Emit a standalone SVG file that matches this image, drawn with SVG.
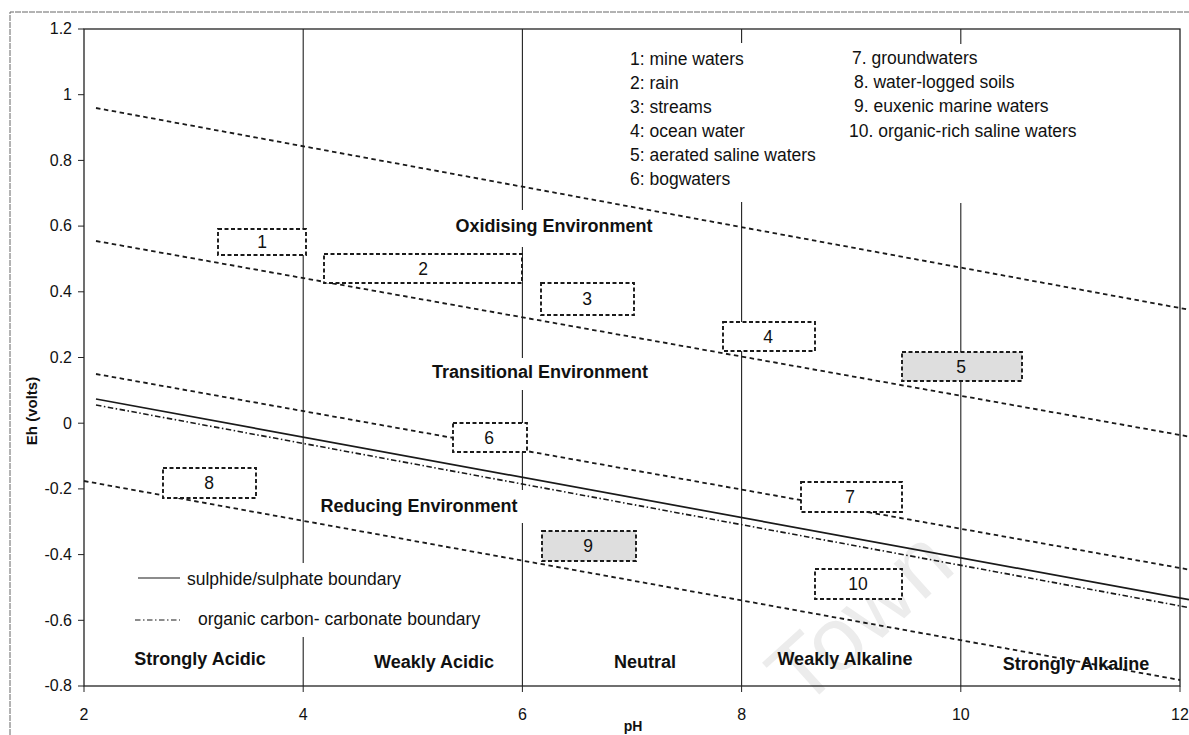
<svg xmlns="http://www.w3.org/2000/svg" width="1189" height="735" viewBox="0 0 1189 735">
  <style>
    text { font-family: "Liberation Sans", Arial, sans-serif; fill: #111; }
    .tick { font-size: 16px; }
    .xtick { font-size: 16px; text-anchor: middle; }
    .legend { font-size: 17.5px; }
    .region { font-size: 18px; font-weight: bold; text-anchor: middle; }
    .axis-title { font-size: 14px; font-weight: bold; text-anchor: middle; }
    .boxlabel { font-size: 17.5px; text-anchor: middle; }
    .frame { fill: none; stroke: #666; stroke-width: 1; stroke-dasharray: 6 1; }
    .axis { fill: none; stroke: #222; stroke-width: 1.3; }
    .grid { stroke: #222; stroke-width: 1.1; fill: none; }
    .boundary { stroke: #1a1a1a; stroke-width: 1.8; fill: none; stroke-dasharray: 4.5 3.5; }
    .sulphide { stroke: #1a1a1a; stroke-width: 1.7; fill: none; }
    .carbon { stroke: #1a1a1a; stroke-width: 1.6; fill: none; stroke-dasharray: 5.5 2.5 1.5 2.5; }
    .box { fill: #fff; stroke: #1a1a1a; stroke-width: 1.9; stroke-dasharray: 4 2.5; }
    .box.shaded { fill: #dedede; }
  </style>

  <rect x="0" y="0" width="1189" height="735" fill="#fff"/>

  <!-- watermark -->
  <text x="802" y="710" transform="rotate(-42 802 710)" style="font-size:90px;fill:#ececec;font-family:'Liberation Sans',Arial,sans-serif">Town</text>

  <!-- outer frame -->
  <polyline class="frame" points="10,735 10,12 1189,12"/>

  <!-- plot frame -->
  <rect class="axis" x="84" y="29" width="1096" height="657"/>

  <!-- vertical pH gridlines (broken where labels sit) -->
  <g id="grid">
    <path class="grid" d="M303.2,29 V563 M303.2,637 V686"/>
    <path class="grid" d="M522.4,29 V210 M522.4,247 V358 M522.4,390 V490 M522.4,523 V686"/>
    <path class="grid" d="M741.6,29 V43 M741.6,202 V686"/>
    <path class="grid" d="M960.8,29 V44 M960.8,203 V686"/>
  </g>

  <!-- axis ticks -->
  <g id="ticks" stroke="#222" stroke-width="1">
    <path d="M78,29H84 M78,94.7H84 M78,160.4H84 M78,226.1H84 M78,291.8H84 M78,357.5H84 M78,423.2H84 M78,488.9H84 M78,554.6H84 M78,620.3H84 M78,686H84"/>
    <path d="M84,686V692 M303.2,686V692 M522.4,686V692 M741.6,686V692 M960.8,686V692 M1180,686V692"/>
  </g>

  <!-- y tick labels -->
  <g id="y-labels" class="tick" text-anchor="end">
    <text class="tick" x="72" y="34">1.2</text>
    <text class="tick" x="72" y="100">1</text>
    <text class="tick" x="72" y="165.5">0.8</text>
    <text class="tick" x="72" y="231">0.6</text>
    <text class="tick" x="72" y="297">0.4</text>
    <text class="tick" x="72" y="362.5">0.2</text>
    <text class="tick" x="72" y="428.5">0</text>
    <text class="tick" x="72" y="494">-0.2</text>
    <text class="tick" x="72" y="560">-0.4</text>
    <text class="tick" x="72" y="625.5">-0.6</text>
    <text class="tick" x="72" y="691">-0.8</text>
  </g>

  <!-- x tick labels -->
  <g id="x-labels">
    <text class="xtick" x="84" y="720">2</text>
    <text class="xtick" x="303.2" y="720">4</text>
    <text class="xtick" x="522.4" y="720">6</text>
    <text class="xtick" x="741.6" y="720">8</text>
    <text class="xtick" x="960.8" y="720">10</text>
    <text class="xtick" x="1180" y="720">12</text>
  </g>

  <text class="axis-title" x="633" y="731">pH</text>
  <text class="axis-title" x="37" y="411" transform="rotate(-90 37 411)" style="font-size:15px">Eh (volts)</text>

  <!-- boundary lines -->
  <g id="connectors">
    <line class="boundary" x1="96" y1="108" x2="1189" y2="309.7"/>
    <line class="boundary" x1="96" y1="241" x2="1189" y2="436.6"/>
    <line class="boundary" x1="96" y1="374" x2="1189" y2="569.6"/>
    <line class="boundary" x1="84" y1="481" x2="1180" y2="680"/>
    <line class="sulphide" x1="96" y1="399" x2="1189" y2="599.7"/>
    <line class="carbon" x1="96" y1="405" x2="1189" y2="607.6"/>
  </g>

  <!-- water-type boxes -->
  <g id="box-1"><rect class="box" x="218" y="229" width="88" height="26"/><text class="boxlabel" x="262" y="248">1</text></g>
  <g id="box-2"><rect class="box" x="324" y="254" width="198" height="29"/><text class="boxlabel" x="423" y="275">2</text></g>
  <g id="box-3"><rect class="box" x="541" y="283" width="93" height="32"/><text class="boxlabel" x="587" y="305">3</text></g>
  <g id="box-4"><rect class="box" x="723" y="322" width="92" height="29"/><text class="boxlabel" x="768" y="343">4</text></g>
  <g id="box-5"><rect class="box shaded" x="902" y="352" width="120" height="29"/><text class="boxlabel" x="961" y="373">5</text></g>
  <g id="box-6"><rect class="box" x="453" y="423" width="74" height="29"/><text class="boxlabel" x="489" y="444">6</text></g>
  <g id="box-7"><rect class="box" x="801" y="482" width="101" height="30"/><text class="boxlabel" x="850" y="503">7</text></g>
  <g id="box-8"><rect class="box" x="163" y="468" width="93" height="30"/><text class="boxlabel" x="209" y="489">8</text></g>
  <g id="box-9"><rect class="box shaded" x="542" y="531" width="94" height="30"/><text class="boxlabel" x="588" y="552">9</text></g>
  <g id="box-10"><rect class="box" x="815" y="569" width="87" height="30"/><text class="boxlabel" x="858" y="590">10</text></g>

  <!-- region labels -->
  <g id="regions">
    <text class="region" x="554" y="232">Oxidising Environment</text>
    <text class="region" x="540" y="378">Transitional Environment</text>
    <text class="region" x="419" y="512">Reducing Environment</text>
    <text class="region" x="200" y="665">Strongly Acidic</text>
    <text class="region" x="434" y="668">Weakly Acidic</text>
    <text class="region" x="645" y="668">Neutral</text>
    <text class="region" x="845" y="665">Weakly Alkaline</text>
    <text class="region" x="1076" y="670">Strongly Alkaline</text>
  </g>

  <!-- water-type key -->
  <g id="key" class="legend">
    <text class="legend" x="630" y="65">1: mine waters</text>
    <text class="legend" x="630" y="89">2: rain</text>
    <text class="legend" x="630" y="113">3: streams</text>
    <text class="legend" x="630" y="137">4: ocean water</text>
    <text class="legend" x="630" y="161">5: aerated saline waters</text>
    <text class="legend" x="630" y="185">6: bogwaters</text>
    <text class="legend" x="852" y="64">7. groundwaters</text>
    <text class="legend" x="854" y="88">8. water-logged soils</text>
    <text class="legend" x="854" y="112">9. euxenic marine waters</text>
    <text class="legend" x="849" y="137">10. organic-rich saline waters</text>
  </g>

  <!-- boundary key -->
  <g id="boundary-key">
    <line class="sulphide" x1="138" y1="578" x2="180" y2="578" style="stroke-width:1.2"/>
    <text class="legend" x="187" y="585">sulphide/sulphate boundary</text>
    <line class="carbon" x1="135" y1="620" x2="180" y2="620" style="stroke-width:1.2"/>
    <text class="legend" x="198" y="625">organic carbon- carbonate boundary</text>
  </g>
</svg>
